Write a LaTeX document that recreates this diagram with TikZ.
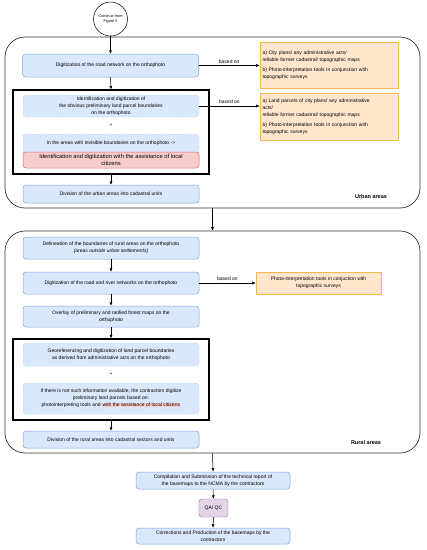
\documentclass[tikz,border=0pt]{standalone}
\usepackage{fontspec}
\setmainfont{Liberation Sans}
\usetikzlibrary{arrows.meta}
\definecolor{bfill}{HTML}{DAE8FC}
\definecolor{bline}{HTML}{7EA6E0}
\definecolor{ofill}{HTML}{FFE6CC}
\definecolor{oline}{HTML}{F5B94F}
\definecolor{rfill}{HTML}{F8CECC}
\definecolor{rline}{HTML}{E07070}
\definecolor{pfill}{HTML}{E1D5E7}
\definecolor{pline}{HTML}{9673A6}
\definecolor{cline}{HTML}{333333}
\newcommand\fs{\fontsize{5}{7}\selectfont}
\newcommand\fsr{\fontsize{5.8}{7.6}\selectfont}
\begin{document}
\begin{tikzpicture}[x=1pt,y=-1pt,
  bbox/.style={draw=bline, fill=bfill, rounded corners=3pt, minimum width=176pt, align=center, font=\fs, inner sep=1pt, line width=0.5pt},
  dbox/.style={bbox, dotted},
  rbox/.style={draw=rline, fill=rfill, rounded corners=3pt, minimum width=176pt, align=center, font=\fsr, inner sep=1pt, line width=0.5pt},
  obox/.style={draw=oline, fill=ofill, align=left, font=\fs, inner sep=2.5pt, line width=0.6pt},
  kbox/.style={draw=black, line width=1.3pt, minimum width=196pt},
  cont/.style={draw=cline, rounded corners=20pt, line width=0.7pt, minimum width=415pt},
  arr/.style={-{Latex[length=3.5pt,width=3pt]}, line width=0.5pt, draw=black},
  lbl/.style={font=\fs, inner sep=1pt},
  plus/.style={font=\fs, inner sep=0pt}]
\useasboundingbox (0,0) rectangle (427,550);

% containers
\node[cont, minimum height=171pt] (urban) at (212.5,122.5) {};
\node[cont, minimum height=222pt] (rural) at (212.5,342) {};
\node[font=\fontsize{5.5}{6}\selectfont\bfseries] (ulab) at (371,197) {Urban areas};
\node[font=\fontsize{5.5}{6}\selectfont\bfseries] (rlab) at (366,443) {Rural areas};

% start circle
\node[circle, draw=black, fill=white, line width=0.5pt, minimum size=34pt, inner sep=0pt, align=center, font=\fontsize{3.8}{4.6}\selectfont] (c5) at (110.5,19) {Continue from\\Figure 5};

% urban
\node[bbox, minimum height=23pt] (d1) at (110.5,65.5) {Digitization of the road network on the orthophoto};
\node[obox, minimum width=138pt, minimum height=46pt, text width=133pt] (o1) at (329,65) {a) City plans/ any administrative acts/\\reliable former cadastral/ topographic maps\\[3.5pt]b) Photo-interpretation tools in conjunction with\\topographic surveys};
\node[kbox, minimum height=84pt] (k1) at (111,132) {};
\node[dbox, minimum height=22pt] (ds1) at (111,106) {Identification and digitization of\\the obvious preliminary land parcel boundaries\\on the orthophoto};
\node[plus] (p1) at (111,125) {+};
\node[dbox, minimum height=32pt] (ds2) at (111,150) {};
\node[lbl] (ds2t) at (111,143.5) {In the areas with invisible boundaries on the orthophoto -{}>};
\node[rbox, minimum height=16pt] (rc) at (111,160) {Identification and digitization with the assistance of local\\citizens};
\node[obox, minimum width=138pt, minimum height=47pt, text width=133pt] (o2) at (329,116.5) {a) Land parcels of city plans/ any administrative\\acts/\\reliable former cadastral/ topographic maps\\[3.5pt]b) Photo-interpretation tools in conjunction with\\topographic surveys};
\node[bbox, minimum height=18pt] (ud) at (111,194) {Division of the urban areas into cadastral units};

\draw[arr] (c5.south) -- (d1.north);
\draw[arr] (d1.south) -- (k1.north);
\draw[arr] (k1.south) -- (ud.north);
\draw[arr] (d1.east) -- node[lbl, above=1pt] {based on} (d1.east -| o1.west);
\draw[arr] (ds1.east) -- node[lbl, above=1pt] {based on} (ds1.east -| o2.west);

% rural
\node[bbox, minimum height=22pt] (r1) at (111,248) {Delineation of the boundaries of rural areas on the orthophoto\\\textit{(areas outside urban settlements)}};
\node[bbox, minimum height=22pt] (r2) at (111,283) {Digitization of the road and river networks on the orthophoto};
\node[obox, align=center, minimum width=125pt, minimum height=22pt] (o3) at (318.5,283) {Photo-interpretation tools in conjuction with\\topographic surveys};
\node[bbox, minimum height=21pt] (r3) at (111,316.5) {Overlay of preliminary and ratified forest maps on the\\orthophoto};
\node[kbox, minimum height=81pt] (k2) at (111,379.5) {};
\node[dbox, minimum height=23pt] (ds3) at (111,354.5) {Georeferencing and digitization of land parcel boundaries\\as derived from administrative acts on the orthophoto};
\node[plus] (p2) at (111,374) {+};
\node[dbox, minimum height=31pt] (ds4) at (111,398.5) {If there is not such information available, the contractors digitize\\preliminary land parcels based on:\\photointerpreting tools and {\setlength{\fboxsep}{0.4pt}\colorbox{rfill}{with the assistance of local citizens}}};
\node[bbox, minimum height=17pt] (rd) at (111,439.5) {Division of the rural areas into cadastral sectors and units};

\draw[arr] (r1.south) -- (r2.north);
\draw[arr] (r2.south) -- (r3.north);
\draw[arr] (r3.south) -- (k2.north);
\draw[arr] (k2.south) -- (rd.north);
\draw[arr] (r2.east) -- node[lbl, above=1pt] {based on} (o3.west);

% between containers and final
\node[bbox, minimum width=154pt, minimum height=17pt] (cmp) at (213,480.5) {Compilation and Submission of the technical report of\\the basemaps to the NCMA by the contractors};
\node[draw=pline, fill=pfill, rounded corners=3pt, minimum width=29pt, minimum height=18pt, font=\fs, inner sep=1pt] (qa) at (213.5,508) {QA/ QC};
\node[bbox, minimum width=154pt, minimum height=16pt] (cor) at (213,536) {Corrections and Production of the basemaps by the\\contractors};

\draw[arr] (urban.south) -- (rural.north);
\draw[arr] (rural.south) -- (cmp.north);
\draw[arr] (cmp.south) -- (qa.north);
\draw[arr] (qa.south) -- (cor.north);
\end{tikzpicture}
\end{document}
